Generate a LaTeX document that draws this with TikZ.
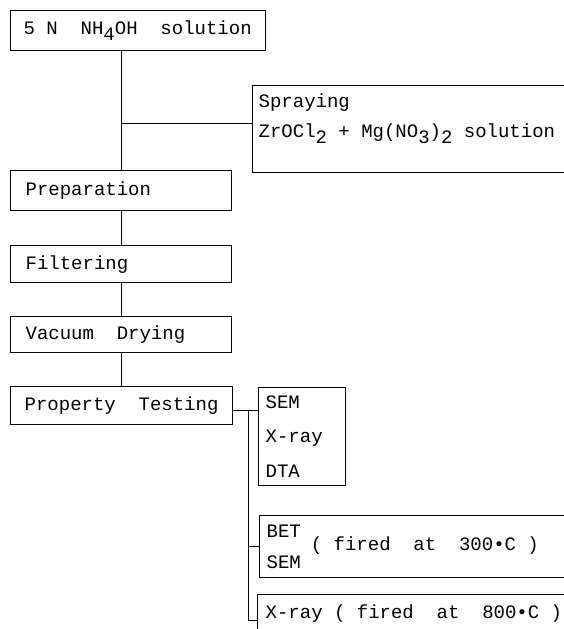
\documentclass[tikz,border=0pt]{standalone}
\usepackage{fontspec}
\setmonofont{Liberation Mono}
\usetikzlibrary{positioning}
\newcommand\lo[1]{\raisebox{-6pt}{#1}}
\newcommand\twfont[1]{\ttfamily\fontsize{19}{#1}\selectfont}

\begin{document}
\begin{tikzpicture}[x=1pt,y=-1pt,line width=1.3pt,
  font=\twfont{33},
  every node/.style={execute at begin node={\spaceskip=0.6em\xspaceskip=0.6em\relax}},
  stage/.style={draw,anchor=north west,align=left,inner xsep=15pt,inner ysep=0pt,
    minimum height=#1},
  stage/.default=38pt,
  testbox/.style={draw,anchor=north west,align=left,inner xsep=7pt,inner ysep=8pt}]
\useasboundingbox (0,0) rectangle (564,629);
\clip (0,0) rectangle (564,629);
\node[stage=40pt,inner xsep=13pt,text width=229pt] (top) at (10,10) {5 N\ \ NH\lo{4}OH\ \ solution};
\node[testbox,inner xsep=6pt,inner ysep=8.5pt,text width=400pt,font=\twfont{30}] (spray) at (252,85)
  {Spraying\\ZrOCl\lo{2} + Mg(NO\lo{3})\lo{2} solution\rule[-26pt]{0pt}{26pt}};
\node[stage=40pt,text width=191pt] (prep) at (10,170) {Preparation};
\node[stage=37pt,text width=191pt] (filt) at (10,245) {Filtering};
\node[stage=36pt,text width=191pt] (vac) at (10,316) {Vacuum\ \ Drying};
\node[stage=38pt,inner xsep=14pt,text width=194pt] (pt) at (10,386) {Property\ \ Testing};
% tests
\node[testbox,text width=73pt,font=\twfont{34.5}] (sem) at (258,387)
  {SEM\\X-ray\\DTA};
\node[testbox,inner ysep=0pt,text width=400pt,font=\twfont{31}] (bet) at (259,515)
  {\begin{tabular}{@{}l@{}}BET\\SEM\end{tabular}\hspace{10pt}( fired\ \ at\ \ 300•C )};
\node[stage=38pt,inner xsep=8pt,text width=400pt] (xray) at (257,594)
  {X-ray ( fired\ \ at\ \ 800•C )};
\draw (top.south -| prep.north) -- (prep.north);
\draw ([yshift=5.5pt]spray.west) -- ([yshift=5.5pt]spray.west -| prep.north);
\draw (prep) -- (filt);
\draw (filt) -- (vac);
\draw (vac) -- (vac |- pt.north);
\draw ([yshift=-5pt]pt.east) -- ([yshift=-5pt]pt.east -| sem.west);
\coordinate (tap) at ([xshift=15pt,yshift=-5pt]pt.east);
\draw (tap) |- ([yshift=-7pt]xray.west);
\draw (tap |- bet.west) -- (bet.west);
\end{tikzpicture}
\end{document}
